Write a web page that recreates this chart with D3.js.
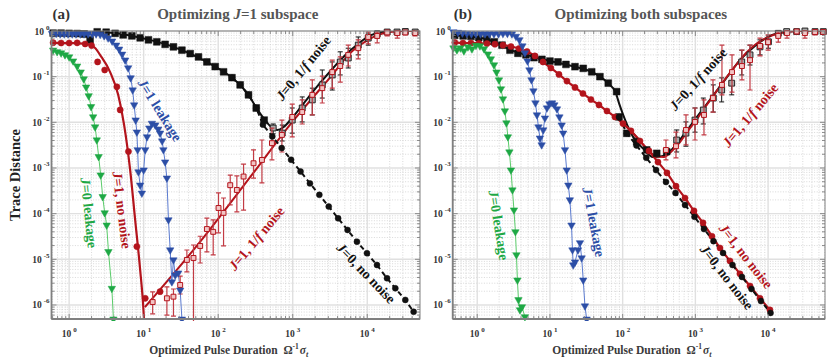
<!DOCTYPE html>
<html><head><meta charset="utf-8">
<script src="https://d3js.org/d3.v7.min.js"></script>
<style>
html,body{margin:0;padding:0;background:#fff;}
svg{display:block;}
</style></head>
<body>
<svg id="chart" width="830" height="362"></svg>
<script>
// ================= DATA =================
const xTickExps = [0, 1, 2, 3, 4];
const yTickExps = [0, -1, -2, -3, -4, -5, -6];
const panelLetters = ["(a)", "(b)"];
const panelTitles = ["Optimizing *J*=1 subspace", "Optimizing both subspaces"];
const yAxisTitle = "Trace Distance";
const xAxisTitle = "Optimized Pulse Duration";

// ---- Panel (a) ----
const A_greenLeak = [[0.61,0.38],[0.69,0.35],[0.78,0.33],[0.88,0.30],[1.0,0.27],[1.13,0.22],[1.28,0.17],[1.43,0.126],[1.57,0.089],[1.69,0.059],[1.83,0.038],[1.97,0.022],[2.10,0.0131],[2.23,7.9e-3],[2.35,4.1e-3],[2.49,1.77e-3],[2.65,7.0e-4],[2.82,2.35e-4],[3.0,1.04e-4],[3.19,5.6e-5],[3.37,1.47e-5],[3.74,2.3e-6],[3.93,4.9e-7]];
const A_blueLeak = [[0.59,0.88],[0.67,0.88],[0.76,0.86],[0.86,0.86],[0.97,0.86],[1.10,0.86],[1.24,0.86],[1.41,0.86],[1.59,0.86],[1.80,0.86],[2.04,0.86],[2.30,0.86],[2.61,0.84],[2.95,0.78],[3.34,0.70],[3.78,0.60],[4.27,0.49],[4.69,0.40],[5.14,0.31],[5.65,0.23],[6.19,0.155],[6.69,0.094],[7.12,0.051],[7.45,0.024],[7.81,0.0112],[8.10,6.1e-3],[8.30,2.5e-3],[8.51,8.2e-4],[8.98,4.2e-4],[9.46,2.8e-4],[10.0,9.0e-4],[10.5,2.5e-3],[11.1,4.8e-3],[11.9,7.5e-3],[12.9,9.5e-3],[14.3,8.7e-3],[15.7,7.1e-3],[16.6,5.8e-3],[17.7,3.9e-3],[18.4,2.5e-3],[19.4,1.35e-3],[20.5,6.0e-4],[21.5,7.3e-5],[22.7,1.6e-5],[23.9,3.2e-6],[25.1,9.7e-6],[26.5,4.5e-6],[29.1,5.0e-6],[30.9,2.1e-6],[32.6,4.9e-7]];
const A_black1f = [[0.61,0.90],[0.78,0.90],[1.0,0.89],[1.28,0.88],[1.59,0.86],[1.91,0.64],[2.38,0.96],[3.14,0.94],[4.14,0.89],[5.31,0.82],[6.95,0.78],[8.98,0.71],[11.6,0.64],[15.0,0.58],[19.4,0.51],[25.1,0.45],[32.6,0.38],[42.1,0.32],[54.4,0.27],[70.5,0.21],[91.2,0.166],[118,0.128],[153,0.095],[197,0.066],[255,0.040],[324,0.0206],[414,0.0112],
  [547,7.5e-3,5.6e-3,9.2e-3],[723,5.8e-3,3.9e-3,8.7e-3],[985,0.0112,5.8e-3,0.0206],[1340,0.0206,0.0102,0.036],[1830,0.031,0.0145,0.056],[2490,0.066,0.034,0.14],[3390,0.109,0.051,0.21],[4340,0.21,0.109,0.35],[5560,0.256,0.155,0.42],[7570,0.49,0.30,0.74],[10300,0.70,0.49,0.90],[13600,0.86,0.70,1.0],[18500,0.95,0.86,1.0],[25100,0.95,0.88,1.0],[32400,0.975,0.92,1.0],[44000,0.95,0.88,1.0]];
const A_black1fFit = [[0.58,0.9],[1.5,0.88],[2.2,0.95],[4,0.9],[7,0.78],[12,0.64],[25,0.45],[50,0.28],[90,0.168],[150,0.097],[200,0.064],[260,0.038],[330,0.02],[420,0.0115],[520,0.0078],[620,0.0068],[750,0.0078],[1000,0.013],[1500,0.03],[2200,0.065],[3300,0.14],[5000,0.29],[7500,0.52],[11000,0.8],[16000,0.95],[25000,1.0],[51000,1.0]];
const A_blackNoNoise = [[153,0.095],[197,0.066],[255,0.040],[324,0.0206],[398,8.9e-3],[532,4.9e-3],[711,2.73e-3],[951,1.51e-3],[1273,8.4e-4],[1702,4.6e-4],[2276,2.58e-4],[3042,1.43e-4],[4067,7.9e-5],[5440,4.4e-5],[7270,2.43e-5],[9910,1.36e-5],[13500,7.5e-6],[18400,3.85e-6],[23800,2.32e-6],[32400,1.29e-6],[41900,7.1e-7]];
const A_redNoNoise = [[0.61,0.555],[0.78,0.546],[1.0,0.546],[1.28,0.55],[1.64,0.52],[2.0,0.48],[2.41,0.21],[3.0,0.14],[4.37,0.060],[4.84,0.0187],[6.25,2.3e-3],[8.1,1.9e-5],[10.5,1.4e-6],[16.6,1.96e-6]];
const A_redNoNoiseFit = [[0.58,0.55],[1.2,0.54],[1.9,0.50],[2.25,0.42],[2.6,0.30],[3.55,0.126],[4.55,0.040],[5.47,8.7e-3],[6.59,9e-4],[7.69,7.3e-5],[8.98,5.8e-6],[9.84,1e-6],[10.1,4.9e-7]];
const A_red1f = [[13.2,1.16e-6,6.4e-7,1.93e-6],[20.5,1.4e-6,6.0e-7,2.5e-6],[25.1,1.52e-6,5.7e-7,2.24e-6],[30.9,2.74e-6,1.74e-6,4.3e-6],[38.0,9.7e-6,5.3e-6,1.6e-5],[46.6,1.07e-5,1e-7,2.06e-5],[57.3,1.96e-5,8.3e-6,3.2e-5],[70.5,4.6e-5,1.45e-5,8.0e-5],[85.7,4.0e-5,1.25e-5,7.3e-5],[101,1.33e-4,3.8e-5,2.84e-4],[118,1.04e-4,1.96e-5,2.2e-4],[145,4.2e-4,1.55e-4,7.0e-4],[178,3.3e-4,1.09e-4,6.7e-4],[219,6.5e-4,1.2e-4,1.22e-3],[298,1.27e-3,6.0e-4,2.5e-3],[386,1.5e-3,4.7e-4,4.1e-3],[526,3.5e-3,1.5e-3,7.5e-3],[716,5.3e-3,2.24e-3,0.0112],[985,0.0131,4.8e-3,0.025],[1340,0.0168,9.2e-3,0.031],[1830,0.040,0.0145,0.085],[2490,0.056,0.0265,0.103],[3390,0.126,0.056,0.23],[4340,0.171,0.076,0.27],[5560,0.30,0.171,0.49],[7570,0.42,0.244,0.64],[10300,0.74,0.52,0.95],[13600,0.78,0.55,0.95],[18500,0.93,0.78,1.0],[25300,0.90,0.70,1.0],[32400,0.93,0.82,1.0],[44000,0.90,0.78,1.0]];
const A_red1fFit = [[10.4,9e-7],[57,2.4e-5],[300,8e-4],[1000,0.0105],[2000,0.04],[3400,0.11],[5800,0.32],[10300,0.64],[14000,0.82],[20000,0.95],[30000,1.0],[51000,1.0]];

// ---- Panel (b) ----
const B_greenLeak = [[0.471,0.424],[0.526,0.384],[0.587,0.424],[0.656,0.365],[0.745,0.446],[0.846,0.404],[0.96,0.482],[1.09,0.47],[1.24,0.404],[1.40,0.313],[1.54,0.244],[1.70,0.18],[1.84,0.126],[1.99,0.0846],[2.12,0.0537],[2.26,0.0324],[2.40,0.0177],[2.52,9.7e-3],[2.64,4.8e-3],[2.77,2.24e-3],[2.91,9.0e-4],[3.05,3.3e-4],[3.2,1.2e-4],[3.35,4.0e-5],[3.46,1.25e-5],[3.57,3.5e-6],[3.69,1.3e-6],[3.87,7.8e-7],[4.12,9.1e-7],[4.53,5.5e-7]];
const B_blueLeak = [[0.471,0.95],[0.543,0.93],[0.626,0.90],[0.721,0.88],[0.832,0.86],[0.96,0.86],[1.11,0.86],[1.28,0.86],[1.47,0.86],[1.70,0.86],[1.96,0.86],[2.26,0.88],[2.60,0.88],[3.0,0.86],[3.41,0.76],[3.80,0.64],[4.18,0.47],[4.53,0.33],[4.91,0.22],[5.22,0.14],[5.57,0.085],[5.93,0.0486],[6.32,0.0265],[6.63,0.0145],[6.95,7.9e-3],[7.28,4.5e-3],[7.69,3.2e-3],[8.09,6.8e-3],[8.53,0.0124],[9.1,0.0206],[9.84,0.0252],[10.7,0.0265],[11.5,0.024],[12.5,0.0196],[13.5,0.0131],[14.5,8.7e-3],[15.2,5.8e-3],[16.1,2.5e-3],[17.0,9.0e-4],[17.9,4.2e-4],[18.8,2.0e-4],[19.8,5.6e-5],[20.4,1.6e-5],[20.9,7.5e-6],[22.1,8.7e-6],[24.3,1.6e-5],[25.9,2.3e-5],[27.3,1.07e-5],[28.7,3.5e-6],[30.3,9.5e-7],[32.0,4.9e-7]];
const B_black1f = [[0.49,0.80],[0.64,0.78],[0.82,0.76],[1.05,0.72],[1.36,0.67],[1.72,0.58],[2.19,0.49],[2.82,0.38],[3.63,0.325],[4.68,0.30],[6.03,0.26],[7.76,0.24],[10.0,0.22],[12.9,0.21],[16.6,0.185],[22.1,0.165],[28.7,0.152],[37.5,0.128],[48.7,0.10],[63.4,0.072],[82.6,0.047],[89,0.0131],[114,5.75e-3],[156,3.77e-3],[214,2.48e-3],[294,2.1e-3],[403,2.28e-3],
  [553,4.1e-3,2.24e-3,6.8e-3],[741,5.8e-3,3.0e-3,0.0102],[988,0.0112,6.1e-3,0.0206],[1285,0.0186,9.2e-3,0.034],[1764,0.034,0.0168,0.066],[2300,0.051,0.028,0.094],[3160,0.072,0.040,0.126],[4340,0.21,0.109,0.38],[5640,0.30,0.18,0.49],[7740,0.45,0.30,0.64],[10100,0.58,0.42,0.78],[13800,0.89,0.74,1.0],[18000,0.97,0.9,1.0],[24700,0.97,0.92,1.0],[32100,1.0,0.95,1.0],[44200,0.97,0.92,1.0],[57400,0.97,0.92,1.0]];
const B_black1fFit = [[0.46,0.80],[1.0,0.73],[1.7,0.59],[2.8,0.39],[4.7,0.30],[10,0.22],[22,0.165],[37,0.128],[49,0.10],[63,0.072],[80,0.045],[90,0.025],[108,0.0113],[139,4.8e-3],[190,2.7e-3],[261,1.73e-3],[358,1.84e-3],[492,2.7e-3],[719,5.8e-3],[1052,0.0131],[1585,0.031],[2550,0.085],[4100,0.23],[6600,0.47],[10600,0.78],[17100,0.95],[27500,1.0],[60000,1.0]];
const B_blackNoNoise = [[89,0.0131],[114,5.75e-3],[155,3.11e-3],[211,1.67e-3],[288,9.0e-4],[394,4.94e-4],[533,2.84e-4],[720,1.55e-4],[972,8.5e-5],[1313,4.6e-5],[1775,2.5e-5],[2400,1.38e-5],[3240,7.5e-6],[4375,4.1e-6],[5910,2.24e-6],[7980,1.22e-6],[10800,6.7e-7]];
const B_redNoNoise = [[0.493,0.56],[0.636,0.546],[0.819,0.546],[1.055,0.538],[1.36,0.53],[1.75,0.514],[2.26,0.49],[2.91,0.458],[3.75,0.414],[4.84,0.356],[6.22,0.284],[8.02,0.21],[10.3,0.155],[13.3,0.112],[17.1,0.080],[22.1,0.058],[28.4,0.0428],[36.6,0.0316],[47.2,0.024],[60.8,0.0177],[78.3,0.0131],[101,9.4e-3],[130,6.5e-3],[173,3.9e-3],[230,2.36e-3],[306,1.35e-3],[407,7.8e-4],[541,4.0e-4],[720,2.2e-4],[957,1.15e-4],[1273,6.3e-5],[1690,3.2e-5],[2180,1.77e-5],[2990,9.2e-6],[4100,4.8e-6],[5640,2.6e-6],[7740,1.4e-6],[10600,7.8e-7]];
const B_red1f = [[394,2.48e-3,1.5e-3,4.1e-3],[541,3.0e-3,1.66e-3,6.1e-3],[743,6.8e-3,3.2e-3,0.0145],[988,0.0102,4.1e-3,0.0206],[1313,0.0145,5.3e-3,0.031],[1745,0.034,0.0168,0.085],[2320,0.066,0.040,0.49],[3190,0.126,0.046,0.30],[4370,0.171,0.085,0.38],[5640,0.23,0.051,0.49],[7740,0.47,0.284,0.70],[10000,0.57,0.38,0.82],[13800,0.78,0.57,0.95],[18200,0.90,0.70,1.0],[24700,0.975,0.86,1.0],[32100,0.90,0.70,1.0],[44200,0.95,0.82,1.0],[57400,0.95,0.86,1.0]];
const B_red1fFit = [[101,9.4e-3],[130,6.5e-3],[173,3.9e-3],[223,2.48e-3],[287,1.83e-3],[370,1.74e-3],[476,2.36e-3],[614,3.7e-3],[791,6.5e-3],[1052,0.0118],[1400,0.0228],[1920,0.046],[2640,0.094],[3620,0.18],[4970,0.33],[6820,0.52],[9360,0.70],[12900,0.86],[17600,0.95],[27500,1.0],[60600,1.0]];

// annotation texts anchored in data coordinates
const A_labels = [
  {t:"*J*=1 leakage", x:16.6, y:0.0186, rot:58, c:"blue"},
  {t:"*J*=0 leakage", x:1.86, y:1.04e-4, rot:84, c:"green"},
  {t:"*J*=1, no noise", x:5.14, y:1.2e-4, rot:83, c:"red"},
  {t:"*J*=1, 1/*f* noise", x:324, y:2.9e-5, rot:-50, c:"red"},
  {t:"*J*=0, 1/*f* noise", x:1380, y:0.155, rot:-51, c:"black"},
  {t:"*J*=0, no noise", x:9700, y:5e-6, rot:46, c:"black"}
];
const B_labels = [
  {t:"*J*=0 leakage", x:1.99, y:5.6e-5, rot:81, c:"green"},
  {t:"*J*=1 leakage", x:40.3, y:6.6e-5, rot:79, c:"blue"},
  {t:"*J*=0, 1/*f* noise", x:1086, y:0.089, rot:-48, c:"black"},
  {t:"*J*=1, 1/*f* noise", x:5640, y:0.0145, rot:-50, c:"red"},
  {t:"*J*=1, no noise", x:4970, y:1.18e-5, rot:52, c:"red"},
  {t:"*J*=0, no noise", x:2720, y:4.1e-6, rot:52, c:"black"}
];

// ================= STYLE / LAYOUT =================
const SERIF = '"Liberation Serif","Times New Roman",Times,serif';
const COL = {black:"#111111", red:"#b3141c", redBar:"#c23b44", blue:"#2c4ea6", blueLine:"#5b7bd0", green:"#1ea845", greenLine:"#5acb6a"};
const yDom = [4.93e-7, 1];
const panels = [
  {xDom:[0.58,5.1e4], x0:51.5, x1:420, y0:31, y1:319, letter:panelLetters[0], title:panelTitles[0],
   green:A_greenLeak, blue:A_blueLeak, black1f:A_black1f, black1fFit:A_black1fFit, blackNN:A_blackNoNoise,
   redNN:A_redNoNoise, redNNFit:A_redNoNoiseFit, red1f:A_red1f, red1fFit:A_red1fFit, labels:A_labels, yTitle:true},
  {xDom:[0.46,6.06e4], x0:452.7, x1:825, y0:31, y1:319, letter:panelLetters[1], title:panelTitles[1],
   green:B_greenLeak, blue:B_blueLeak, black1f:B_black1f, black1fFit:B_black1fFit, blackNN:B_blackNoNoise,
   redNN:B_redNoNoise, redNNFit:B_redNoNoise, red1f:B_red1f, red1fFit:B_red1fFit, labels:B_labels, yTitle:false}
];

const svg = d3.select("#chart");
const defs = svg.append("defs");

function rich(sel, str) {
  str.split("*").forEach((p, i) => {
    if (!p) return;
    sel.append("tspan").attr("font-style", i % 2 ? "italic" : "normal").text(p);
  });
}

function logTicks(dom) {
  const lo = Math.floor(Math.log10(dom[0])), hi = Math.ceil(Math.log10(dom[1]));
  const major = [], minor = [];
  for (let e = lo; e <= hi; e++) for (let k = 1; k < 10; k++) {
    const v = k * Math.pow(10, e);
    if (v < dom[0] * 0.9999 || v > dom[1] * 1.0001) continue;
    (k === 1 ? major : minor).push(v);
  }
  return {major, minor};
}

panels.forEach((p, pi) => {
  const x = d3.scaleLog().domain(p.xDom).range([p.x0, p.x1]);
  const y = d3.scaleLog().domain(yDom).range([p.y1, p.y0]);
  const g = svg.append("g");

  const clipId = "clip" + pi, clipM = "clipm" + pi;
  defs.append("clipPath").attr("id", clipId).append("rect")
    .attr("x", p.x0).attr("y", p.y0).attr("width", p.x1 - p.x0).attr("height", p.y1 - p.y0);
  defs.append("clipPath").attr("id", clipM).append("rect")
    .attr("x", p.x0 - 6).attr("y", p.y0 - 6).attr("width", p.x1 - p.x0 + 12).attr("height", p.y1 - p.y0 + 8);

  // ---- grid ----
  const xt = logTicks(p.xDom), yt = logTicks(yDom);
  const grid = g.append("g");
  grid.selectAll(".xmin").data(xt.minor).join("line")
    .attr("x1", d => x(d)).attr("x2", d => x(d)).attr("y1", p.y0).attr("y2", p.y1)
    .attr("stroke", "#c8c8c8").attr("stroke-width", 0.7).attr("stroke-dasharray", "1,1.6");
  grid.selectAll(".ymin").data(yt.minor).join("line")
    .attr("y1", d => y(d)).attr("y2", d => y(d)).attr("x1", p.x0).attr("x2", p.x1)
    .attr("stroke", "#c8c8c8").attr("stroke-width", 0.7).attr("stroke-dasharray", "1,1.6");
  grid.selectAll(".xmaj").data(xt.major).join("line")
    .attr("x1", d => x(d)).attr("x2", d => x(d)).attr("y1", p.y0).attr("y2", p.y1)
    .attr("stroke", "#e0e0e0").attr("stroke-width", 1.4);
  grid.selectAll(".ymaj").data(yt.major).join("line")
    .attr("y1", d => y(d)).attr("y2", d => y(d)).attr("x1", p.x0).attr("x2", p.x1)
    .attr("stroke", "#e0e0e0").attr("stroke-width", 1.4);

  const lineGen = d3.line().x(d => x(d[0])).y(d => y(d[1]));
  const smooth = d3.line().x(d => x(d[0])).y(d => y(d[1])).curve(d3.curveMonotoneX);
  const L = g.append("g").attr("clip-path", `url(#${clipId})`);
  const M = g.append("g").attr("clip-path", `url(#${clipM})`);

  function drawLine(layer, data, gen, color, w, dash) {
    layer.append("path").datum(data).attr("d", gen).attr("fill", "none")
      .attr("stroke", color).attr("stroke-width", w).attr("stroke-dasharray", dash || null)
      .attr("stroke-linejoin", "round");
  }
  function drawBars(data, color, w) {
    const bars = data.filter(d => d.length === 4);
    const bg = M.append("g").attr("stroke", color).attr("stroke-width", w).attr("fill", "none");
    bars.forEach(d => {
      const xx = x(d[0]);
      const ylo = Math.min(y(d[2]), p.y1 + 2), yhi = y(d[3]);
      bg.append("line").attr("x1", xx).attr("x2", xx).attr("y1", ylo).attr("y2", yhi);
      bg.append("line").attr("x1", xx - 2.5).attr("x2", xx + 2.5).attr("y1", yhi).attr("y2", yhi);
      if (y(d[2]) <= p.y1) bg.append("line").attr("x1", xx - 2.5).attr("x2", xx + 2.5).attr("y1", ylo).attr("y2", ylo);
    });
  }
  function drawMarkers(data, type, size, fill, stroke, sw, rot) {
    M.append("g").selectAll("path").data(data).join("path")
      .attr("d", d3.symbol().type(type).size(size))
      .attr("transform", d => `translate(${x(d[0])},${y(d[1])})${rot ? " rotate(" + rot + ")" : ""}`)
      .attr("fill", fill).attr("stroke", stroke).attr("stroke-width", sw);
  }

  // black J=0, 1/f noise
  drawLine(L, p.black1fFit, smooth, COL.black, 2);
  drawBars(p.black1f, COL.black, 1);
  drawMarkers(p.black1f.filter(d => d.length === 2), d3.symbolSquare, 46, COL.black, COL.black, 0.5);
  drawMarkers(p.black1f.filter(d => d.length === 4), d3.symbolSquare, 34, "#a9a9a9", "#222", 1);

  // red J=1, no noise
  drawLine(L, p.redNNFit, smooth, COL.red, 2.2);
  drawMarkers(p.redNN, d3.symbolCircle, 30, COL.red, COL.red, 0.5);
  // red J=1, 1/f noise
  drawLine(L, p.red1fFit, smooth, COL.red, 2);
  drawBars(p.red1f, COL.redBar, 1.2);
  drawMarkers(p.red1f, d3.symbolSquare, 24, "#f2c4c4", COL.red, 1);

  // black J=0, no noise
  drawLine(L, p.blackNN, lineGen, COL.black, 2, "5,3.5");
  drawMarkers(p.blackNN, d3.symbolCircle, 28, COL.black, COL.black, 0.5);

  // leakage
  drawLine(L, p.green, lineGen, COL.greenLine, 1);
  drawMarkers(p.green, d3.symbolTriangle, 24, COL.green, COL.green, 0.5, 180);
  drawLine(L, p.blue, lineGen, COL.blueLine, 1);
  drawMarkers(p.blue, d3.symbolTriangle, 24, COL.blue, COL.blue, 0.5, 180);

  // ---- axes box & ticks ----
  const ax = g.append("g").attr("stroke", "#808080");
  ax.append("rect").attr("x", p.x0).attr("y", p.y0).attr("width", p.x1 - p.x0).attr("height", p.y1 - p.y0)
    .attr("fill", "none").attr("stroke-width", 1);
  ax.append("line").attr("x1", p.x0).attr("x2", p.x1).attr("y1", p.y1).attr("y2", p.y1).attr("stroke-width", 1.8);
  ax.append("line").attr("x1", p.x0).attr("x2", p.x0).attr("y1", p.y0).attr("y2", p.y1).attr("stroke-width", 1.8);
  const tk = (v, len) => {
    ax.append("line").attr("x1", x(v)).attr("x2", x(v)).attr("y1", p.y1).attr("y2", p.y1 - len).attr("stroke-width", 0.9);
    ax.append("line").attr("x1", x(v)).attr("x2", x(v)).attr("y1", p.y0).attr("y2", p.y0 + len).attr("stroke-width", 0.9);
  };
  xt.minor.forEach(v => tk(v, 3)); xt.major.forEach(v => tk(v, 5));
  const tky = (v, len) => {
    ax.append("line").attr("y1", y(v)).attr("y2", y(v)).attr("x1", p.x0).attr("x2", p.x0 + len).attr("stroke-width", 0.9);
    ax.append("line").attr("y1", y(v)).attr("y2", y(v)).attr("x1", p.x1).attr("x2", p.x1 - len).attr("stroke-width", 0.9);
  };
  yt.minor.forEach(v => tky(v, 3)); yt.major.forEach(v => tky(v, 5));

  // tick labels
  xTickExps.forEach(e => {
    const t = g.append("text").attr("x", x(Math.pow(10, e))).attr("y", p.y1 + 18)
      .attr("text-anchor", "middle").attr("font-family", SERIF).attr("font-weight", "bold")
      .attr("font-size", 9.5).attr("fill", "#333");
    t.append("tspan").text("10");
    t.append("tspan").attr("dx", 2).attr("dy", -5).attr("font-size", 7).text(String(e));
  });
  yTickExps.forEach(e => {
    const t = g.append("text").attr("x", p.x0 - 2).attr("y", y(Math.pow(10, e)) + 3.5)
      .attr("text-anchor", "end").attr("font-family", SERIF).attr("font-weight", "bold")
      .attr("font-size", 9.5).attr("fill", "#333");
    t.append("tspan").text("10");
    t.append("tspan").attr("dx", 2).attr("dy", -5).attr("font-size", 7).text(e === 0 ? "0" : "-" + Math.abs(e));
  });

  // x-axis title
  const xc = (p.x0 + p.x1) / 2 - 7;
  const xtTitle = g.append("text").attr("x", xc).attr("y", 354).attr("text-anchor", "middle")
    .attr("font-family", SERIF).attr("font-weight", "bold").attr("font-size", 11.5).attr("fill", "#3a3a3a");
  xtTitle.append("tspan").text(xAxisTitle + "\u00a0\u00a0\u03a9");
  xtTitle.append("tspan").attr("dy", -5).attr("font-size", 7.5).text("-1");
  xtTitle.append("tspan").attr("dy", 5).attr("dx", 1).attr("font-style", "italic").text("\u03c3");
  xtTitle.append("tspan").attr("dy", 3).attr("font-size", 8).attr("font-style", "italic").text("t");

  // panel letter + title
  g.append("text").attr("x", p.x0 + 1).attr("y", 19).attr("font-family", SERIF).attr("font-weight", "bold")
    .attr("font-size", 15).attr("fill", "#333").text(p.letter);
  const tt = g.append("text").attr("x", (p.x0 + p.x1) / 2 + 2).attr("y", 19).attr("text-anchor", "middle")
    .attr("font-family", SERIF).attr("font-weight", "bold").attr("font-size", 15).attr("fill", "#555");
  rich(tt, p.title);

  if (p.yTitle) {
    g.append("text").attr("transform", `translate(20,${(p.y0 + p.y1) / 2}) rotate(-90)`)
      .attr("text-anchor", "middle").attr("font-family", SERIF).attr("font-weight", "bold")
      .attr("font-size", 14.5).attr("fill", "#222").text(yAxisTitle);
  }

  // annotations
  p.labels.forEach(l => {
    const t = g.append("text").attr("transform", `translate(${x(l.x)},${y(l.y)}) rotate(${l.rot})`)
      .attr("text-anchor", "middle").attr("dominant-baseline", "central")
      .attr("font-family", SERIF).attr("font-weight", "bold").attr("font-size", 14)
      .attr("fill", COL[l.c]);
    rich(t, l.t);
  });
});
</script>
</body></html>
